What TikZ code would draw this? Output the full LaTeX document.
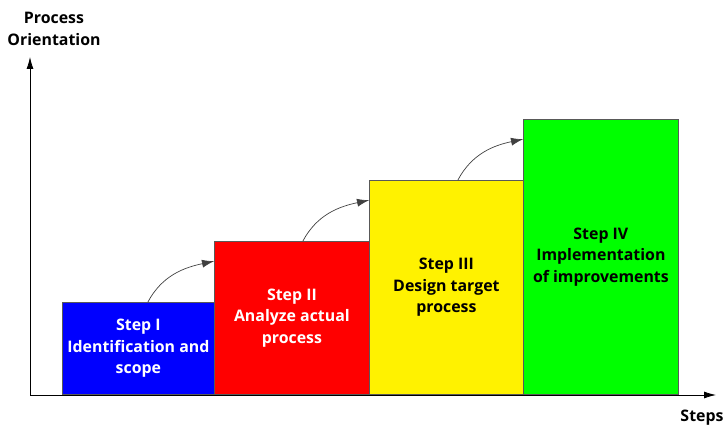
\documentclass[tikz,border=0pt]{standalone}
\usepackage{fontspec}
\setmainfont{Open Sans}
\usetikzlibrary{arrows.meta}
\begin{document}
\begin{tikzpicture}[x=1pt,y=1pt,
  stepbox/.style={draw=black!65,line width=0.8pt,anchor=south west,inner sep=0pt,
    align=center,font=\bfseries\fontsize{15.9}{21.5}\selectfont},
  axis/.style={draw=black,line width=0.8pt,-{Latex[length=12pt,width=7pt]}},
  flow/.style={draw=black!75,line width=0.7pt,-{Latex[length=12pt,width=8pt]}},
  lbl/.style={font=\bfseries\fontsize{15.9}{21.5}\selectfont,align=center,inner sep=0pt}]
\useasboundingbox (0,0) rectangle (723,-427);
% axes
\coordinate (o) at (30,-395);
\coordinate (ytop) at (30,-57);
\coordinate (xend) at (716,-395);
\draw[axis] (o) -- (ytop);
\draw[axis] (o) -- (xend);
\node[lbl] (ylab) at (54,-29) {Process\\Orientation};
\node[lbl] (xlab) at (702,-418) {Steps};
% step boxes
\node[stepbox,fill=blue,text=white,minimum width=152pt,minimum height=92pt] (s1) at (62,-395)
  {Step I\\Identification and\\scope};
\node[stepbox,fill=red,text=white,minimum width=155pt,minimum height=153pt] (s2) at (214,-395)
  {Step II\\Analyze actual\\process};
\node[stepbox,fill=yellow,text=black,minimum width=154pt,minimum height=214pt] (s3) at (369,-395)
  {Step III\\Design target\\process};
\node[stepbox,fill={rgb,255:red,0;green,255;blue,0},text=black,minimum width=155pt,minimum height=275pt] (s4) at (523,-395)
  {Step IV\\Implementation\\of improvements};
% transitions between steps
\draw[flow] ([xshift=-67pt]s1.north east) to[out=62,in=192] ([yshift=-20pt]s2.north west);
\draw[flow] ([xshift=-67pt]s2.north east) to[out=62,in=192] ([yshift=-20pt]s3.north west);
\draw[flow] ([xshift=-66pt]s3.north east) to[out=62,in=192] ([yshift=-20pt]s4.north west);
\end{tikzpicture}
\end{document}
